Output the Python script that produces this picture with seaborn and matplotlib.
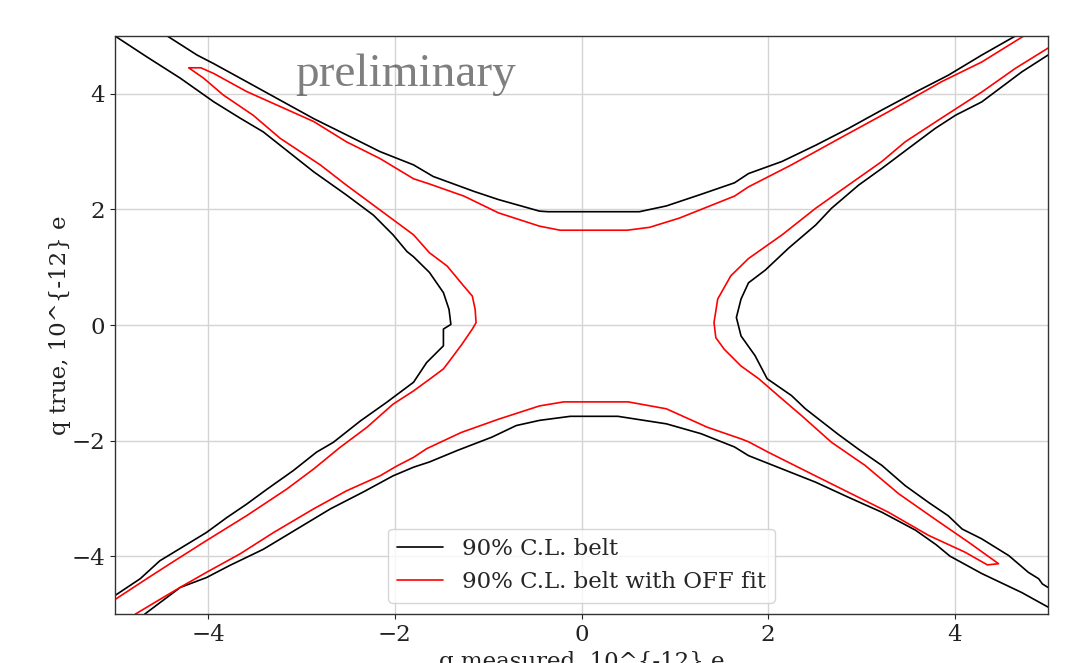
import matplotlib
matplotlib.use("Agg")
import matplotlib.pyplot as plt
import seaborn as sns
from matplotlib.lines import Line2D

# ---------------- data ----------------
# 90% C.L. belt (black): four boundary curves
black_left_x = [-5.0, -4.73, -4.52, -4.02, -3.80, -3.59, -3.37, -3.09, -2.84, -2.66, -2.37,
                -2.09, -1.80, -1.66, -1.48, -1.48, -1.40, -1.42, -1.48, -1.63, -1.80, -1.87,
                -2.02, -2.23, -2.52, -2.87, -3.23, -3.41, -3.66, -3.94, -4.30, -4.66, -5.0]
black_left_y = [-4.68, -4.39, -4.08, -3.59, -3.33, -3.10, -2.84, -2.52, -2.20, -2.03, -1.66,
                -1.34, -0.99, -0.65, -0.36, -0.07, 0.01, 0.27, 0.56, 0.91, 1.18, 1.27,
                1.56, 1.90, 2.25, 2.65, 3.11, 3.34, 3.58, 3.86, 4.27, 4.64, 5.0]

black_upper_x = [-4.44, -4.12, -3.94, -3.59, -3.23, -2.87, -2.52, -2.16, -1.80, -1.59, -1.15,
                 -0.89, -0.45, -0.36, 0.62, 0.91, 1.28, 1.64, 1.79, 2.15, 2.51, 2.86, 3.22,
                 3.58, 3.93, 4.29, 4.65]
black_upper_y = [5.0, 4.67, 4.52, 4.21, 3.89, 3.57, 3.29, 3.00, 2.77, 2.57, 2.31,
                 2.17, 1.97, 1.96, 1.96, 2.06, 2.26, 2.46, 2.62, 2.83, 3.11, 3.40, 3.72,
                 4.03, 4.32, 4.67, 5.0]

black_right_x = [5.0, 4.72, 4.29, 4.01, 3.79, 3.50, 3.22, 2.97, 2.68, 2.51, 2.22, 1.97, 1.79,
                 1.71, 1.66, 1.71, 1.86, 1.99, 2.25, 2.40, 2.75, 2.97, 3.22, 3.47, 3.72, 3.93,
                 4.08, 4.29, 4.58, 4.79, 4.90, 4.94, 5.0]
black_right_y = [4.67, 4.38, 3.86, 3.63, 3.40, 3.05, 2.71, 2.42, 2.02, 1.73, 1.33, 0.95, 0.73,
                 0.45, 0.13, -0.19, -0.53, -0.93, -1.22, -1.45, -1.89, -2.15, -2.43, -2.78, -3.07, -3.30,
                 -3.53, -3.70, -3.99, -4.28, -4.39, -4.48, -4.54]

black_lower_x = [-4.68, -4.30, -4.02, -3.77, -3.41, -3.05, -2.69, -2.34, -2.02, -1.80, -1.63,
                 -1.33, -0.96, -0.70, -0.45, -0.12, 0.39, 0.91, 1.28, 1.64, 1.79, 2.15, 2.51,
                 2.86, 3.22, 3.58, 3.80, 3.95, 4.29, 4.72, 5.0]
black_lower_y = [-5.0, -4.54, -4.37, -4.16, -3.88, -3.53, -3.18, -2.89, -2.61, -2.46, -2.37,
                 -2.17, -1.94, -1.74, -1.65, -1.58, -1.58, -1.71, -1.88, -2.11, -2.26, -2.49, -2.72,
                 -2.98, -3.24, -3.55, -3.80, -4.00, -4.30, -4.63, -4.88]

# 90% C.L. belt with OFF fit (red): two boundary curves with closed tips
red_left_x = [-5.0, -4.66, -4.41, -4.02, -3.59, -3.16, -2.87, -2.59, -2.30, -2.02, -1.80, -1.63,
              -1.48, -1.40, -1.28, -1.17, -1.13, -1.14, -1.17, -1.26, -1.44, -1.63, -1.80, -2.16,
              -2.52, -2.80, -3.23, -3.52, -3.84, -4.05, -4.21, -4.08,
              -3.94, -3.59, -3.23, -2.87, -2.52, -2.16, -1.80, -1.63, -1.26, -0.89, -0.45, -0.23,
              0.49, 0.73, 1.05, 1.64, 1.79, 2.25, 2.79, 3.29, 3.86, 4.29, 4.74]
red_left_y = [-4.75, -4.39, -4.13, -3.73, -3.30, -2.84, -2.49, -2.12, -1.77, -1.37, -1.14, -0.94,
              -0.76, -0.59, -0.33, -0.07, 0.04, 0.27, 0.50, 0.67, 1.02, 1.25, 1.56, 1.99,
              2.42, 2.77, 3.23, 3.63, 3.98, 4.27, 4.45, 4.45,
              4.35, 4.04, 3.78, 3.52, 3.17, 2.88, 2.53, 2.44, 2.23, 1.94, 1.71, 1.64,
              1.64, 1.69, 1.85, 2.23, 2.39, 2.77, 3.25, 3.69, 4.21, 4.55, 5.0]

red_right_x = [5.0, 4.65, 4.29, 3.83, 3.47, 3.22, 2.86, 2.51, 2.15, 1.79, 1.60, 1.46, 1.42,
               1.44, 1.53, 1.71, 1.90, 2.15, 2.36, 2.68, 3.04, 3.40, 3.79, 4.15, 4.47, 4.35,
               4.11, 3.72, 3.29, 2.93, 2.47, 2.00, 1.79, 1.71, 1.35, 0.91, 0.50, -0.19, -0.45,
               -0.89, -1.29, -1.66, -1.80, -1.98, -2.16, -2.52, -2.87, -3.30, -3.66, -4.02,
               -4.27, -4.48, -4.78]
red_right_y = [4.79, 4.44, 4.03, 3.55, 3.17, 2.83, 2.42, 2.02, 1.56, 1.15, 0.85, 0.45, 0.04,
               -0.22, -0.42, -0.71, -0.93, -1.28, -1.57, -2.03, -2.43, -2.92, -3.36, -3.76, -4.13, -4.15,
               -3.93, -3.64, -3.24, -2.95, -2.58, -2.20, -2.02, -1.97, -1.77, -1.45, -1.33, -1.33, -1.40,
               -1.63, -1.86, -2.14, -2.29, -2.44, -2.61, -2.87, -3.18, -3.59, -3.96, -4.28,
               -4.51, -4.71, -5.0]

x_ticks = [-4, -2, 0, 2, 4]
y_ticks = [-4, -2, 0, 2, 4]
legend_labels = ["90% C.L. belt", "90% C.L. belt with OFF fit"]
x_label = "q measured, 10^{-12} e"
y_label = "q true, 10^{-12} e"
watermark = "preliminary"

# ---------------- style ----------------
sns.set_style("ticks", {"axes.grid": True, "grid.color": "#d4d4d4",
                        "axes.edgecolor": "#333333", "xtick.color": "#333333",
                        "ytick.color": "#333333"})
plt.rcParams["font.family"] = ["DejaVu Serif"]
plt.rcParams["axes.linewidth"] = 1.0
plt.rcParams["xtick.major.size"] = 3.5
plt.rcParams["ytick.major.size"] = 3.5

FS = 16.5

fig = plt.figure(figsize=(10.66, 6.63), dpi=100)
ax = fig.add_axes([115 / 1066, 49 / 663, 933 / 1066, 578 / 663])

lw = 1.2
black_curves = [(black_left_x, black_left_y), (black_upper_x, black_upper_y),
                (black_right_x, black_right_y), (black_lower_x, black_lower_y)]
red_curves = [(red_left_x, red_left_y), (red_right_x, red_right_y)]

for xs, ys in black_curves:
    sns.lineplot(x=xs, y=ys, sort=False, estimator=None, color="black", lw=lw,
                 ax=ax, legend=False)
for xs, ys in red_curves:
    sns.lineplot(x=xs, y=ys, sort=False, estimator=None, color="red", lw=lw,
                 ax=ax, legend=False)

ax.set_xlim(-5, 5)
ax.set_ylim(-5, 5)
ax.set_xticks(x_ticks)
ax.set_yticks(y_ticks)
ax.tick_params(labelsize=FS, colors="#222222")
ax.grid(True, color="#d4d4d4", lw=1.0)
ax.set_xlabel(x_label, fontsize=FS, color="#222222")
ax.set_ylabel(y_label, fontsize=FS, color="#222222", labelpad=0.5)
for s in ax.spines.values():
    s.set_visible(True)
    s.set_color("#333333")

ax.text(-3.07, 4.14, watermark, fontsize=34, color="black", alpha=0.5,
        family="Liberation Serif", ha="left", va="baseline")

handles = [Line2D([], [], color="black", lw=lw), Line2D([], [], color="red", lw=lw)]
ax.legend(handles, legend_labels, loc="lower center", fontsize=FS, frameon=True,
          framealpha=0.8, edgecolor="#cccccc", fancybox=True)

fig.savefig("out.png", dpi=100)
